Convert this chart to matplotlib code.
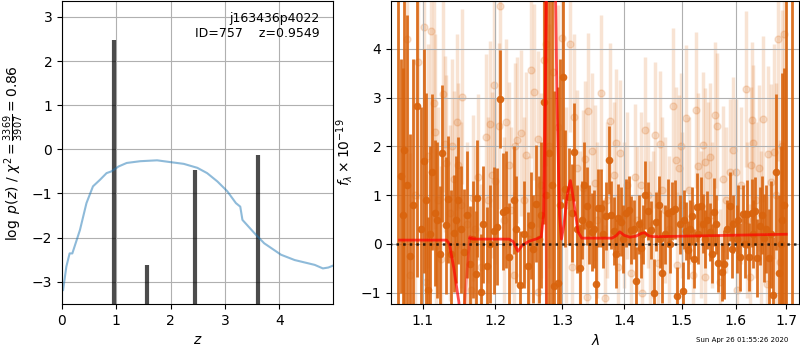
import numpy as np
import matplotlib
matplotlib.use('Agg')
from matplotlib import pyplot as plt
from matplotlib.ticker import ScalarFormatter, NullLocator, NullFormatter

# p(z) curve
z_grid = [0.02, 0.08, 0.14, 0.19, 0.33, 0.45, 0.57, 0.70, 0.82, 0.91, 1.04, 1.19,
          1.44, 1.75, 1.99, 2.24, 2.49, 2.67, 2.86, 3.04, 3.20, 3.28, 3.32, 3.54,
          3.72, 4.03, 4.28, 4.65, 4.80, 4.90, 5.02]
log_pz = [-3.19, -2.66, -2.36, -2.36, -1.83, -1.22, -0.84, -0.69, -0.54, -0.50, -0.39, -0.31,
          -0.27, -0.25, -0.29, -0.33, -0.42, -0.54, -0.73, -0.95, -1.22, -1.30, -1.60, -1.90,
          -2.13, -2.39, -2.51, -2.62, -2.70, -2.68, -2.62]

# chi2 peaks
z_peaks = [0.95, 1.56, 2.44, 3.60]
peak_vals = [2.47, -2.63, -0.47, -0.12]

# spectrum, first beam (dark)
lam_a = [1.0681, 1.0718, 1.0765, 1.0839, 1.0930, 1.1018, 1.1075, 1.1124, 1.1159, 1.1226,
         1.1266, 1.1307, 1.1340, 1.1416, 1.1480, 1.1553, 1.1642, 1.1721, 1.1748, 1.1791,
         1.1876, 1.1981, 1.2025, 1.2062, 1.2106, 1.2155, 1.2204, 1.2266, 1.2355, 1.2420,
         1.2473, 1.2524, 1.2599, 1.2650, 1.2714, 1.2797, 1.2877, 1.2929, 1.3016, 1.3053,
         1.3105, 1.3148, 1.3179, 1.3230, 1.3279, 1.3347, 1.3386, 1.3466, 1.3536, 1.3573,
         1.3622, 1.3704, 1.3748, 1.3831, 1.3897, 1.3952, 1.4036, 1.4120, 1.4161, 1.4205,
         1.4290, 1.4359, 1.4405, 1.4462, 1.4504, 1.4539, 1.4591, 1.4649, 1.4700, 1.4754,
         1.4825, 1.4873, 1.4919, 1.4970, 1.5021, 1.5081, 1.5111, 1.5184, 1.5270, 1.5343,
         1.5380, 1.5465, 1.5515, 1.5595, 1.5671, 1.5735, 1.5784, 1.5840, 1.5891, 1.5954,
         1.6020, 1.6083, 1.6146, 1.6212, 1.6263, 1.6310, 1.6374, 1.6419, 1.6472, 1.6557,
         1.6645, 1.6737, 1.6791, 1.6858, 1.6920, 1.7000, 1.7124]
flux_a = [6.00, 1.40, 1.92, -0.24, 2.83, 1.70, -0.94, 1.47, 0.63, -0.21,
          1.86, 0.38, 0.92, 0.22, 0.90, -0.17, -0.42, -0.62, 0.94, -0.99,
          -0.45, 0.27, 0.35, 2.97, 0.66, 0.70, -0.26, 0.90, -0.84, 0.20,
          -0.45, 0.38, 0.83, 0.10, 2.91, 1.86, -0.87, -0.79, 3.42, 1.13,
          0.97, 0.64, 1.88, 0.30, -0.49, 1.20, 0.77, 0.25, -0.81, 0.73,
          0.73, 0.57, 1.72, 0.27, 0.53, 0.46, 0.63, 0.29, 0.30, -0.76,
          -0.09, 1.00, 0.68, 0.29, -1.01, 0.46, 0.79, -0.60, 0.20, 0.63,
          0.68, 0.71, -1.07, 0.40, -0.96, 0.27, -0.12, 0.57, 0.75, 0.77,
          0.42, 0.49, 0.25, 0.66, -0.39, -0.57, -0.42, 0.30, 0.77, 0.41,
          0.10, -0.26, 0.61, 0.61, -0.26, 0.63, 0.68, -0.28, 0.37, 0.13,
          -0.28, -1.05, 1.47, -0.59, 0.50, 6.00, 6.00]
err_a = [9.0, 2.4, 3.5, 2.5, 3.5, 2.3, 1.5, 1.6, 1.5, 1.4,
         1.4, 1.4, 1.3, 1.2, 1.3, 1.3, 1.2, 1.3, 1.2, 1.2,
         1.2, 1.3, 1.2, 1.0, 1.2, 1.2, 1.1, 1.1, 1.1, 1.1,
         1.1, 1.1, 1.2, 1.3, 2.5, 3.5, 4.0, 4.0, 2.5, 1.2,
         1.0, 1.0, 1.0, 0.9, 0.9, 0.9, 0.8, 0.8, 0.8, 0.8,
         0.8, 0.7, 0.7, 0.7, 0.7, 0.7, 0.7, 0.7, 0.6, 0.7,
         0.6, 0.7, 0.6, 0.6, 0.7, 0.6, 0.6, 0.6, 0.6, 0.7,
         0.6, 0.6, 0.6, 0.6, 0.6, 0.6, 0.6, 0.6, 0.7, 0.6,
         0.6, 0.6, 0.6, 0.7, 0.6, 0.6, 0.7, 0.6, 0.7, 0.6,
         0.7, 0.7, 0.6, 0.7, 0.7, 0.7, 0.7, 0.8, 0.8, 0.9,
         1.0, 1.2, 1.6, 1.6, 3.0, 9.0, 9.0]

# dark points mostly hidden under the others
lam_a_fill = [1.0745, 1.0800, 1.0880, 1.0975, 1.1050, 1.1100, 1.1190, 1.1380, 1.1450, 1.1520,
              1.1600, 1.1680, 1.1830, 1.1920, 1.2300, 1.2560, 1.2680, 1.2750, 1.2840, 1.2970,
              1.3310, 1.3420, 1.3500, 1.3660, 1.3790, 1.3860, 1.3990, 1.4080, 1.4250, 1.4330,
              1.4620, 1.4790, 1.5050, 1.5150, 1.5230, 1.5300, 1.5420, 1.5560, 1.5630, 1.5930,
              1.6050, 1.6180, 1.6340, 1.6510, 1.6600, 1.6700, 1.6890, 1.6960]
flux_a_fill = [0.6, 1.2, 0.8, 0.3, 0.9, 0.2, 0.5, -0.2, 0.5, 0.3,
               0.6, 0.1, 0.4, 0.0, 0.3, -0.1, 0.6, 1.0, 1.2, 0.8,
               0.5, 0.4, 0.3, 0.2, 0.6, -0.2, 0.1, 0.7, 0.4, 0.2,
               0.1, 0.0, 0.5, 0.3, -0.3, 0.2, 0.1, -0.2, 0.4, -0.1,
               0.5, 0.0, 0.2, 0.6, 0.3, 0.2, 0.0, 0.8]
err_a_fill = [3.0, 3.5, 3.0, 2.5, 2.2, 1.8, 1.6, 1.3, 1.3, 1.3,
              1.3, 1.2, 1.2, 1.2, 1.1, 1.1, 1.5, 4.0, 4.0, 3.0,
              0.8, 0.8, 0.8, 0.7, 0.7, 0.7, 0.7, 0.7, 0.6, 0.6,
              0.6, 0.6, 0.6, 0.6, 0.6, 0.6, 0.6, 0.6, 0.6, 0.6,
              0.7, 0.7, 0.7, 0.8, 0.9, 1.1, 2.0, 2.8]

# spectrum, second beam (light)
lam_b = [1.0797, 1.0830, 1.0940, 1.1013, 1.1049, 1.1106, 1.1146, 1.1159, 1.1180, 1.1249,
         1.1272, 1.1294, 1.1316, 1.1361, 1.1421, 1.1462, 1.1480, 1.1539, 1.1600, 1.1661,
         1.1690, 1.1754, 1.1801, 1.1862, 1.1929, 1.1955, 1.1976, 1.2048, 1.2062, 1.2120,
         1.2193, 1.2266, 1.2290, 1.2316, 1.2380, 1.2453, 1.2524, 1.2563, 1.2623, 1.2638,
         1.2714, 1.2751, 1.2867, 1.2992, 1.3127, 1.3148, 1.3190, 1.3233, 1.3322, 1.3368,
         1.3386, 1.3411, 1.3466, 1.3524, 1.3622, 1.3684, 1.3775, 1.3831, 1.3870, 1.3897,
         1.3925, 1.4000, 1.4120, 1.4184, 1.4287, 1.4310, 1.4354, 1.4450, 1.4533, 1.4587,
         1.4610, 1.4700, 1.4845, 1.4893, 1.4909, 1.4955, 1.4980, 1.5081, 1.5210, 1.5263,
         1.5306, 1.5390, 1.5421, 1.5434, 1.5482, 1.5527, 1.5607, 1.5651, 1.5703, 1.5764,
         1.5891, 1.5954, 1.6013, 1.6027, 1.6192, 1.6286, 1.6297, 1.6328, 1.6347, 1.6458,
         1.6543, 1.6610, 1.6642, 1.6696, 1.6756, 1.6842, 1.6870, 1.6965]
flux_b = [4.20, -0.64, 3.73, 4.45, -0.77, 4.37, 2.90, 2.30, -0.05, -0.30,
          3.07, 2.05, 1.66, 0.63, 1.33, 2.50, 1.61, 3.02, 0.40, -0.95,
          0.95, 1.38, -0.47, 2.20, 2.46, 1.42, 3.26, 2.42, 4.87, 0.50,
          1.62, -0.64, 2.01, 2.13, 2.27, 1.83, 3.57, 3.12, 2.15, -0.98,
          3.78, 4.09, 3.53, 4.22, 4.10, -0.47, 2.61, 1.55, 1.15, 1.74,
          -1.08, 2.73, 1.90, 1.25, 3.10, -1.11, 2.53, 1.42, 2.08, -0.47,
          1.86, 0.60, -0.60, 1.37, 1.21, -1.01, 2.33, 0.20, 2.24, -0.39,
          2.05, 0.70, 2.83, 1.72, -0.43, 1.55, 2.00, 2.58, -0.64, 2.75,
          1.59, 2.02, -0.67, 1.69, 1.42, 1.79, 2.65, 2.41, -0.78, 1.33,
          1.48, 1.93, 1.47, -0.95, 3.18, -0.67, 1.62, 2.55, 2.07, 1.55,
          2.57, -0.81, 1.85, 1.28, 1.89, 4.20, -0.36, 4.30]
err_b = [3.0, 2.5, 2.8, 2.5, 2.2, 2.5, 2.2, 2.0, 2.0, 1.9,
         2.0, 1.8, 1.8, 1.8, 1.8, 1.8, 1.7, 1.8, 1.7, 1.7,
         1.7, 1.7, 1.7, 1.7, 1.7, 1.7, 1.8, 1.7, 1.8, 1.7,
         1.7, 1.7, 1.7, 1.7, 1.7, 1.7, 1.8, 1.8, 1.8, 1.8,
         2.2, 2.5, 2.5, 2.2, 1.8, 1.7, 1.7, 1.6, 1.6, 1.6,
         1.6, 1.6, 1.6, 1.6, 1.6, 1.5, 1.6, 1.5, 1.5, 1.5,
         1.5, 1.5, 1.5, 1.5, 1.5, 1.5, 1.5, 1.5, 1.5, 1.5,
         1.5, 1.5, 1.6, 1.5, 1.5, 1.5, 1.5, 1.5, 1.5, 1.6,
         1.5, 1.5, 1.5, 1.5, 1.5, 1.5, 1.5, 1.5, 1.5, 1.5,
         1.5, 1.5, 1.5, 1.5, 1.6, 1.5, 1.6, 1.6, 1.6, 1.7,
         1.7, 1.8, 1.8, 2.0, 2.2, 2.5, 2.5, 3.0]

lam_b_fill = [1.0900, 1.1070, 1.1210, 1.1400, 1.1520, 1.1720, 1.1890, 1.2000, 1.2150, 1.2230,
              1.2420, 1.2490, 1.2680, 1.2800, 1.2930, 1.3060, 1.3280, 1.3560, 1.3720, 1.4050,
              1.4220, 1.4400, 1.4500, 1.4660, 1.4770, 1.5000, 1.5130, 1.5350, 1.5560, 1.5820,
              1.6100, 1.6220, 1.6400, 1.6500, 1.6800, 1.6920]
flux_b_fill = [1.0, 1.8, 0.9, 2.0, 0.8, 0.3, 0.9, 1.3, 2.5, 0.7,
               0.9, 0.1, 1.2, 2.0, 2.4, 0.8, 0.3, 0.5, 0.9, 1.2,
               0.5, 1.0, 0.4, 1.1, 0.3, 0.8, 1.1, 0.4, 0.6, 0.9,
               1.2, 0.5, 0.9, 0.2, 1.0, 2.0]
err_b_fill = [2.8, 2.3, 1.9, 1.8, 1.7, 1.7, 1.7, 1.7, 1.7, 1.7,
              1.7, 1.7, 1.9, 2.5, 2.5, 2.0, 1.6, 1.6, 1.6, 1.5,
              1.5, 1.5, 1.5, 1.5, 1.5, 1.5, 1.5, 1.5, 1.5, 1.5,
              1.6, 1.6, 1.6, 1.7, 2.3, 2.8]

# best-fit models
model_lam = [1.070, 1.132, 1.136, 1.142, 1.149, 1.151, np.nan, 1.164, 1.168, 1.175,
             1.220, 1.226, 1.233, 1.240, 1.250, 1.262, 1.268, 1.2715, 1.2740, 1.2770,
             1.2890, 1.2920, 1.2960, 1.2990, 1.3030, 1.3080, 1.3130, 1.3180, 1.3250, 1.3310,
             1.3800, 1.3870, 1.3930, 1.4000, 1.4100, 1.4200, 1.4300, 1.4350, 1.4420, 1.4500,
             1.5500, 1.7000]
model_flux = [0.08, 0.08, 0.00, -0.50, -1.20, -3.00, np.nan, 0.12, 0.10, 0.10,
              0.10, 0.05, -0.15, -0.02, 0.06, 0.11, 0.15, 0.60, 3.00, 6.00,
              6.00, 3.00, 0.60, 0.10, 0.40, 1.00, 1.30, 0.90, 0.25, 0.12,
              0.12, 0.17, 0.25, 0.18, 0.14, 0.16, 0.22, 0.23, 0.17, 0.15,
              0.17, 0.20]
model2_lam = [1.150, 1.158, 1.164, 1.170, np.nan, 1.2738, 1.2762]
model2_flux = [-3.00, -1.00, 0.15, 0.12, np.nan, 6.00, -3.00]

fig = plt.figure(figsize=(8, 3.5), dpi=100)
ax = fig.add_axes([0.0775, 0.131, 0.339, 0.866])
ax2 = fig.add_axes([0.489, 0.131, 0.51, 0.866])

# p(z) panel
ax.vlines(z_peaks, -3.6, peak_vals, color='k', alpha=0.7, lw=3)
ax.plot(z_grid, log_pz, color='tab:blue', alpha=0.5, lw=1.5)
ax.set_xlim(0, 4.99)
ax.set_ylim(-3.51, 3.36)
ax.set_xticks([0, 1, 2, 3, 4])
ax.set_yticks([-3, -2, -1, 0, 1, 2, 3])
ax.grid()
ax.set_xlabel(r'$z$')
ax.set_ylabel(r'$\log\ p(z)$' + ' / ' + r'$\chi^2=\frac{3369}{3907}=0.86$')
ax.text(0.95, 0.965, 'j163436p4022\nID=757    z=0.9549', ha='right', va='top',
        transform=ax.transAxes, fontsize=9)

# spectrum panel
col = '#d9640e'
ax2.errorbar(lam_b + lam_b_fill, flux_b + flux_b_fill, yerr=err_b + err_b_fill,
             fmt='o', color=col, alpha=0.18, markersize=5, elinewidth=2.5,
             capsize=0, zorder=1)
ax2.errorbar(lam_a + lam_a_fill, flux_a + flux_a_fill, yerr=err_a + err_a_fill,
             fmt='o', color=col, alpha=0.9, markersize=4.5, elinewidth=2,
             capsize=0, zorder=2)
ax2.plot(model2_lam, model2_flux, color='r', alpha=0.35, lw=2, zorder=3)
ax2.plot(model_lam, model_flux, color='r', alpha=0.7, lw=2, zorder=4)
ax2.plot([1.0, 1.8], [0, 0], color='k', linestyle=':', lw=1.8, alpha=0.8, zorder=5)

ax2.set_xscale('log')
ax2.set_xlim(1.0595, 1.7267)
ax2.set_xticks([1.1, 1.2, 1.3, 1.4, 1.5, 1.6, 1.7])
ax2.xaxis.set_major_formatter(ScalarFormatter())
ax2.xaxis.set_minor_locator(NullLocator())
ax2.xaxis.set_minor_formatter(NullFormatter())
ax2.set_ylim(-1.233, 4.98)
ax2.set_yticks([-1, 0, 1, 2, 3, 4])
ax2.grid()
ax2.set_xlabel(r'$\lambda$')
ax2.set_ylabel(r'$f_\lambda \times 10^{-19}$')

fig.text(0.985, 0.02, 'Sun Apr 26 01:55:26 2020', ha='right', va='bottom', fontsize=5)

fig.savefig('out.png', dpi=100)
plt.close()
